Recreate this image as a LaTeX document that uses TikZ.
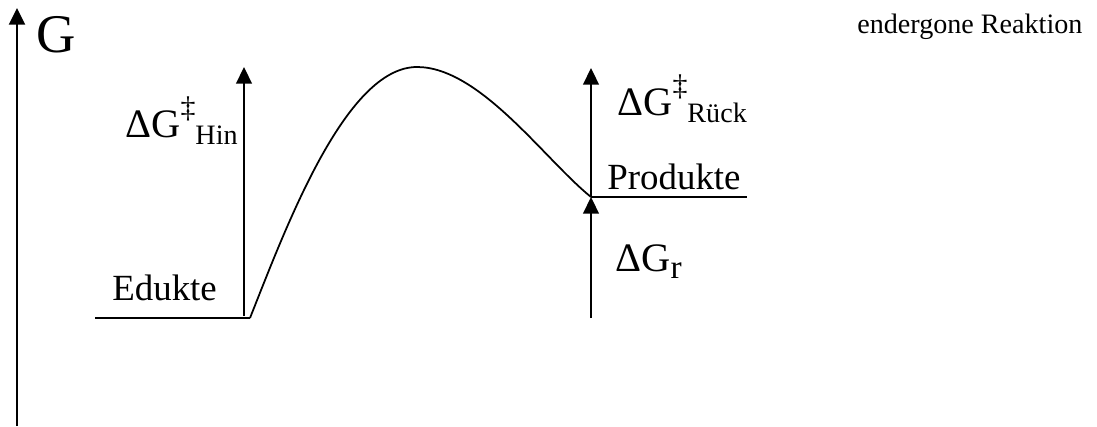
\documentclass[tikz,border=0pt]{standalone}
\usepackage{fontspec}
\setmainfont{Liberation Serif}
\usetikzlibrary{arrows.meta}

\tikzset{
  axis/.style={line width=1.5pt,-{Triangle[length=9.5pt,width=9pt]}},
  level/.style={line width=1pt},
  gap/.style={line width=1pt,-{Triangle[length=9.5pt,width=9pt]}},
  lbl/.style={inner sep=0pt,anchor=base west,font=\fontsize{21}{25}\selectfont},
}
\newcommand{\dgdag}[1]{{\fontsize{23}{27}\selectfont ΔG}\raisebox{11pt}{\fontsize{17}{20}\selectfont ‡}\raisebox{-4.5pt}{\fontsize{16}{19}\selectfont #1}}

\begin{document}
\begin{tikzpicture}[x=0.02cm,y=-0.02cm]
  \useasboundingbox (0,0) rectangle (1097,426);
  % points of the energy profile
  \coordinate (Gbot) at (17,426);
  \coordinate (Gtop) at (17,8);
  \coordinate (EdL) at (95,318);
  \coordinate (EdR) at (250,318);
  \coordinate (TS) at (417,67);
  \coordinate (PrL) at (591,197);
  \coordinate (PrR) at (747,197);
  \coordinate (HinB) at (244,316);
  \coordinate (HinT) at (244,67);
  \coordinate (RueT) at (591,68);
  \coordinate (RB) at (591,318);
  % axis
  \draw[axis] (Gbot) -- (Gtop);
  \node[lbl,font=\fontsize{31}{35}\selectfont] (G) at (36,52) {G};
  % levels and curve
  \draw[level] (EdL) -- (EdR);
  \draw[level] (PrL) -- (PrR);
  \draw[level] (EdR) .. controls (285,230) and (345,67) .. (TS)
    .. controls (480,67) and (545,160) .. (PrL);
  % energy differences
  \draw[gap] (HinB) -- (HinT);
  \draw[gap] (PrL) -- (RueT);
  \draw[gap] (RB) -- (PrL);
  % labels
  \node[lbl] (edukte) at (112,300) {Edukte};
  \node[lbl] (produkte) at (607,189) {Produkte};
  \node[lbl] (hin) at (125,137) {\dgdag{Hin}};
  \node[lbl] (rueck) at (617,115) {\dgdag{Rück}};
  \node[lbl] (dgr) at (615,271) {{\fontsize{23}{27}\selectfont ΔG}\raisebox{-4pt}{\fontsize{19}{22}\selectfont r}};
  \node[lbl,font=\fontsize{16}{19}\selectfont] (title) at (857,33) {endergone Reaktion};
\end{tikzpicture}
\end{document}
